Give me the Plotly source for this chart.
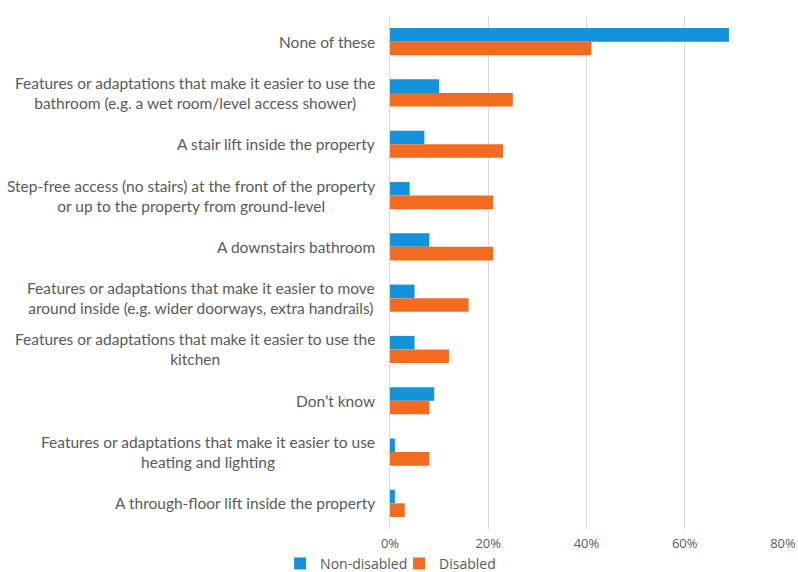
import plotly.graph_objects as go

categories = [
    "None of these",
    "Features or adaptations that make it easier to use the<br>bathroom (e.g. a wet room/level access shower)",
    "A stair lift inside the property",
    "Step-free access (no stairs) at the front of the property<br>or up to the property from ground-level",
    "A downstairs bathroom",
    "Features or adaptations that make it easier to move<br>around inside (e.g. wider doorways, extra handrails)",
    "Features or adaptations that make it easier to use the<br>kitchen",
    "Don\u2019t know",
    "Features or adaptations that make it easier to use<br>heating and lighting",
    "A through-floor lift inside the property",
]
non_disabled = [69, 10, 7, 4, 8, 5, 5, 9, 1, 1]
disabled = [41, 25, 23, 21, 21, 16, 12, 8, 8, 3]
tick_vals = [0, 20, 40, 60, 80]
tick_text = ["0%", "20%", "40%", "60%", "80%"]

BLUE = "#1592DC"
ORANGE = "#F26B21"
TXT = "#595959"
FONT = "Lato"

fig = go.Figure()
fig.add_trace(go.Bar(y=categories, x=non_disabled, name="Non-disabled", orientation="h",
                     marker=dict(color=BLUE, line=dict(width=0))))
fig.add_trace(go.Bar(y=categories, x=disabled, name="Disabled", orientation="h",
                     marker=dict(color=ORANGE, line=dict(width=0))))

for c in categories:
    fig.add_annotation(x=0, xref="paper", y=c, yref="y", text=c, showarrow=False,
                       xanchor="right", align="center", xshift=-13,
                       font=dict(family=FONT, size=15.5, color=TXT))

fig.update_layout(
    width=798, height=572,
    margin=dict(l=390, r=15, t=16, b=43, autoexpand=False),
    paper_bgcolor="white", plot_bgcolor="white",
    barmode="group", bargap=0.47, bargroupgap=0,
    font=dict(family="Open Sans", size=13, color=TXT),
    legend=dict(orientation="h", xref="container", yref="paper",
                x=0.351, xanchor="left", y=-0.068, yanchor="middle",
                font=dict(family="Open Sans", size=14, color=TXT), traceorder="normal",
                itemwidth=30, tracegroupgap=0, entrywidth=74, entrywidthmode="pixels"),
    showlegend=True,
)
fig.update_xaxes(range=[0, 80], tickvals=tick_vals, ticktext=tick_text, automargin=False,
                 showgrid=True, gridcolor="#D9D9D9", gridwidth=1, zeroline=False,
                 showline=False, ticks="", ticklabelstandoff=5,
                 tickfont=dict(family="Open Sans", size=13, color=TXT))
fig.update_yaxes(autorange="reversed", showticklabels=False, showgrid=False, automargin=False,
                 showline=True, linecolor="#D9D9D9", linewidth=1, ticks="")

fig.write_html("out.html", config={"displayModeBar": False},
               post_script="document.body.style.margin='0';")
